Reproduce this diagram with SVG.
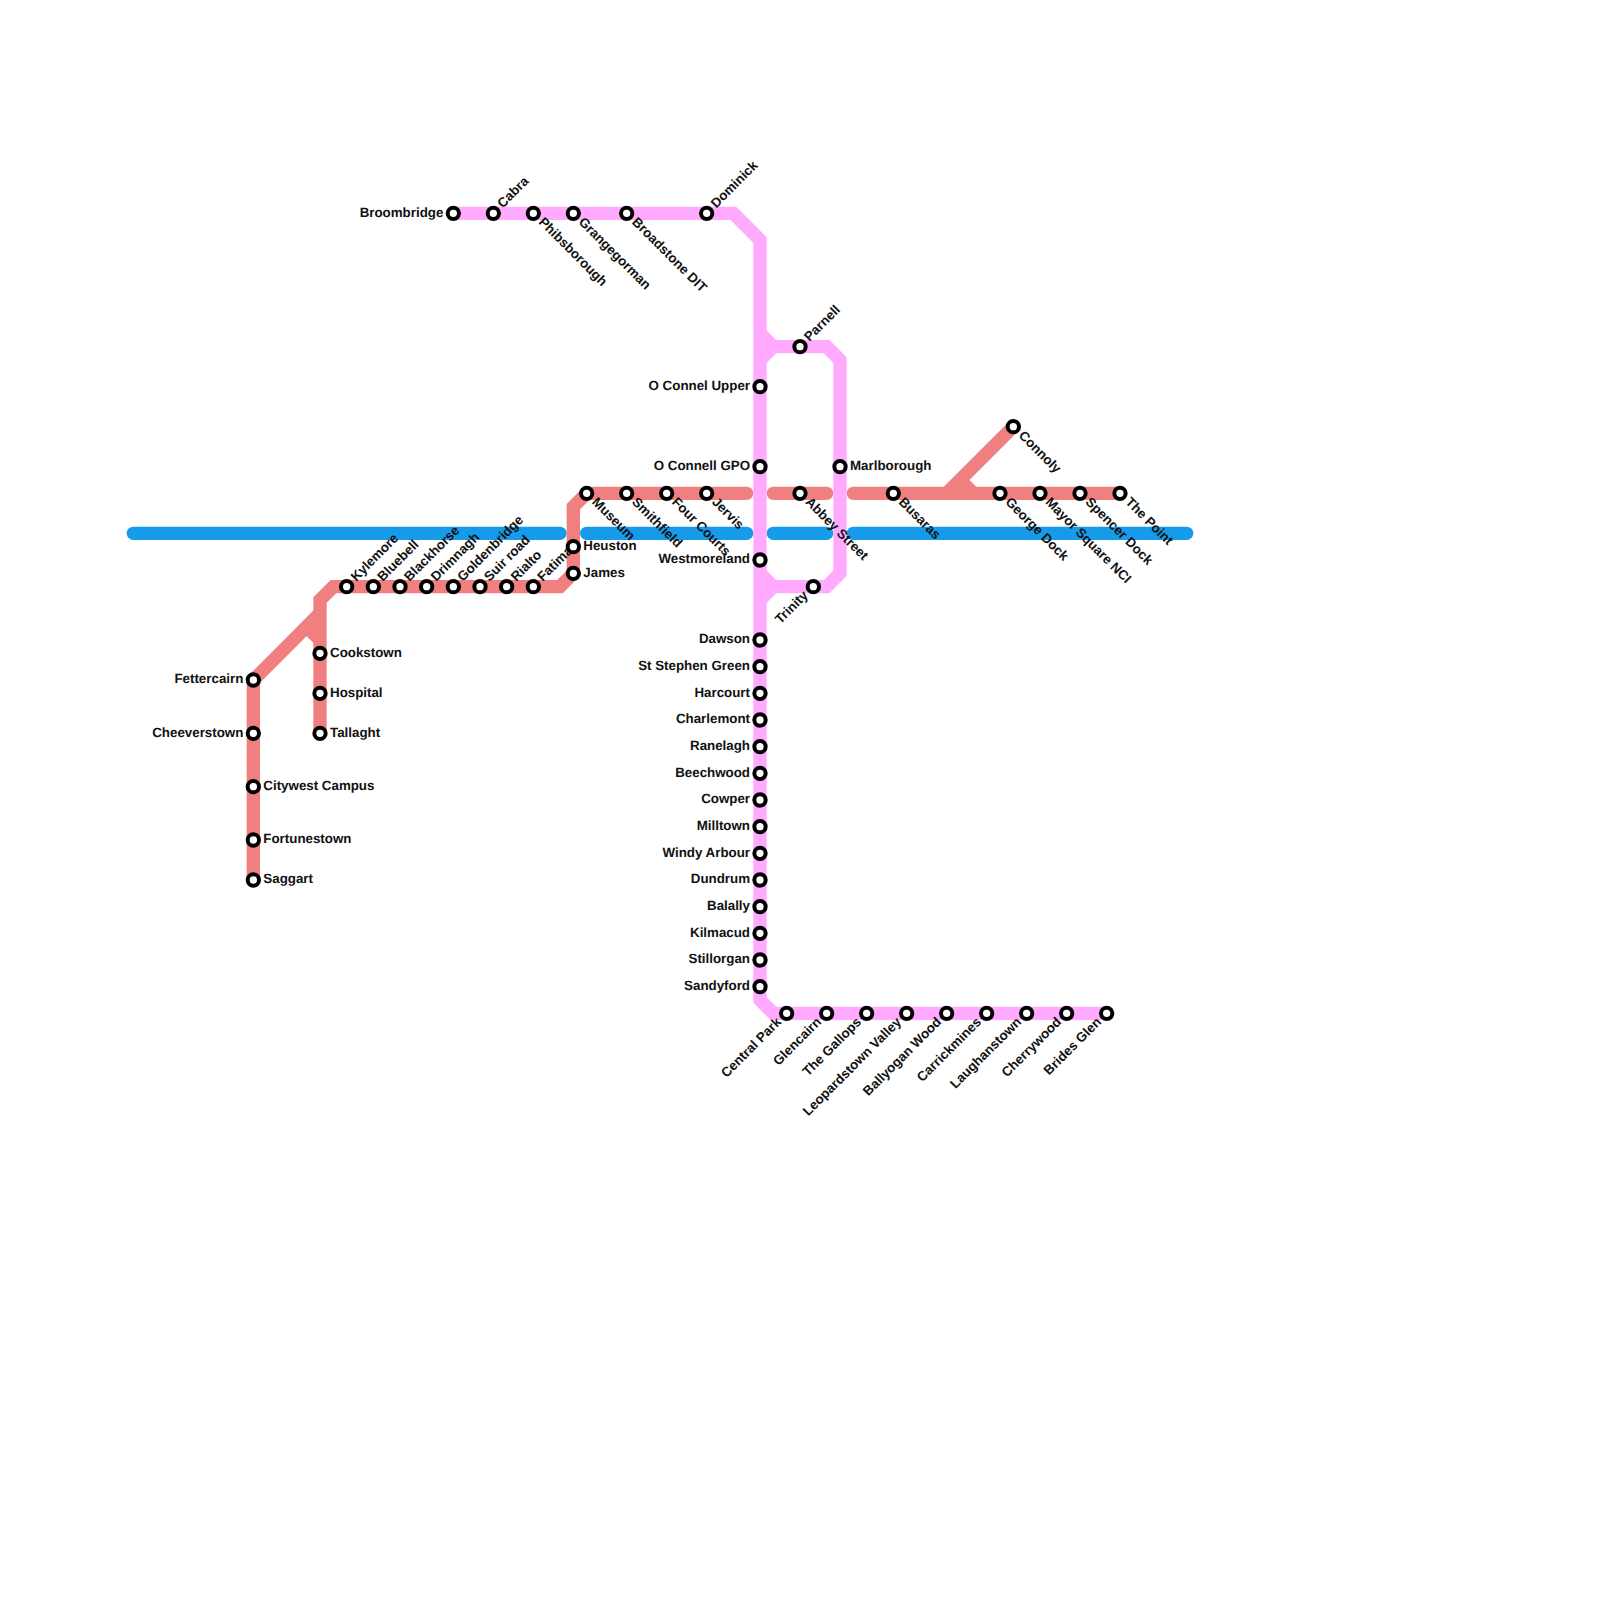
<svg xmlns="http://www.w3.org/2000/svg" width="1600" height="1600" viewBox="0 0 1600 1600">
<style>
.l{fill:none;stroke-width:13.33;stroke-linejoin:miter;stroke-linecap:butt}
.r{stroke-linecap:round}
.blue{stroke:#169beb}.red{stroke:#f08080}.pink{stroke:#ffaaff}
circle{fill:#fff;stroke:#000;stroke-width:4}
text{font-family:"Liberation Sans",Arial,sans-serif;font-size:13.33px;font-weight:bold;fill:#111;text-rendering:geometricPrecision}
.e{text-anchor:end}
</style>
<g id="connectors">
<path class="l blue r" d="M133.33 533.33H560M586.67 533.33H746.67M773.33 533.33H826.67M853.33 533.33H1186.67"/>
<path class="l red r" d="M746.67 493.33H586.67M773.33 493.33H826.67M853.33 493.33H1120"/>
<path class="l red" d="M320 733.33V600L333.33 586.67H560L573.33 573.33V506.67L586.67 493.33"/>
<path class="l red" d="M253.33 880V680L320 613.33M306.67 626.67L320 640"/>
<path class="l red" d="M1013.33 426.67L946.67 493.33M960 480L973.33 493.33"/>
<path class="l pink" d="M453.33 213.33H733.33L760 240V1000L773.33 1013.33H1106.67"/>
<path class="l pink" d="M760 333.33L773.33 346.67H826.67L840 360V573.33L826.67 586.67H773.33L760 573.33M760 360L773.33 346.67M760 600L773.33 586.67"/>
</g>
<g id="n-fettercairn" transform="translate(253.33 680)"><circle r="5.67"/><text class="e" x="-10" y="3.4">Fettercairn</text></g>
<g id="n-cheeverstown" transform="translate(253.33 733.33)"><circle r="5.67"/><text class="e" x="-10" y="3.4">Cheeverstown</text></g>
<g id="n-citywest" transform="translate(253.33 786.67)"><circle r="5.67"/><text x="10" y="3.4">Citywest Campus</text></g>
<g id="n-fortunestown" transform="translate(253.33 840)"><circle r="5.67"/><text x="10" y="3.4">Fortunestown</text></g>
<g id="n-saggart" transform="translate(253.33 880)"><circle r="5.67"/><text x="10" y="3.4">Saggart</text></g>
<g id="n-cookstown" transform="translate(320 653.33)"><circle r="5.67"/><text x="10" y="3.4">Cookstown</text></g>
<g id="n-hospital" transform="translate(320 693.33)"><circle r="5.67"/><text x="10" y="3.4">Hospital</text></g>
<g id="n-tallaght" transform="translate(320 733.33)"><circle r="5.67"/><text x="10" y="3.4">Tallaght</text></g>
<g id="n-kylemore" transform="translate(346.67 586.67)"><circle r="5.67"/><text transform="rotate(-45)" x="10" y="3.4">Kylemore</text></g>
<g id="n-bluebell" transform="translate(373.33 586.67)"><circle r="5.67"/><text transform="rotate(-45)" x="10" y="3.4">Bluebell</text></g>
<g id="n-blackhorse" transform="translate(400 586.67)"><circle r="5.67"/><text transform="rotate(-45)" x="10" y="3.4">Blackhorse</text></g>
<g id="n-drimnagh" transform="translate(426.67 586.67)"><circle r="5.67"/><text transform="rotate(-45)" x="10" y="3.4">Drimnagh</text></g>
<g id="n-goldenbridge" transform="translate(453.33 586.67)"><circle r="5.67"/><text transform="rotate(-45)" x="10" y="3.4">Goldenbridge</text></g>
<g id="n-suirroad" transform="translate(480 586.67)"><circle r="5.67"/><text transform="rotate(-45)" x="10" y="3.4">Suir road</text></g>
<g id="n-rialto" transform="translate(506.67 586.67)"><circle r="5.67"/><text transform="rotate(-45)" x="10" y="3.4">Rialto</text></g>
<g id="n-fatima" transform="translate(533.33 586.67)"><circle r="5.67"/><text transform="rotate(-45)" x="10" y="3.4">Fatima</text></g>
<g id="n-heuston" transform="translate(573.33 546.67)"><circle r="5.67"/><text x="10" y="3.4">Heuston</text></g>
<g id="n-james" transform="translate(573.33 573.33)"><circle r="5.67"/><text x="10" y="3.4">James</text></g>
<g id="n-museum" transform="translate(586.67 493.33)"><circle r="5.67"/><text transform="rotate(45)" x="10" y="3.4">Museum</text></g>
<g id="n-smithfield" transform="translate(626.67 493.33)"><circle r="5.67"/><text transform="rotate(45)" x="10" y="3.4">Smithfield</text></g>
<g id="n-fourcourts" transform="translate(666.67 493.33)"><circle r="5.67"/><text transform="rotate(45)" x="10" y="3.4">Four Courts</text></g>
<g id="n-jervis" transform="translate(706.67 493.33)"><circle r="5.67"/><text transform="rotate(45)" x="10" y="3.4">Jervis</text></g>
<g id="n-abbey" transform="translate(800 493.33)"><circle r="5.67"/><text transform="rotate(45)" x="10" y="3.4">Abbey Street</text></g>
<g id="n-busaras" transform="translate(893.33 493.33)"><circle r="5.67"/><text transform="rotate(45)" x="10" y="3.4">Busaras</text></g>
<g id="n-georgedock" transform="translate(1000 493.33)"><circle r="5.67"/><text transform="rotate(45)" x="10" y="3.4">George Dock</text></g>
<g id="n-mayor" transform="translate(1040 493.33)"><circle r="5.67"/><text transform="rotate(45)" x="10" y="3.4">Mayor Square NCI</text></g>
<g id="n-spencer" transform="translate(1080 493.33)"><circle r="5.67"/><text transform="rotate(45)" x="10" y="3.4">Spencer Dock</text></g>
<g id="n-thepoint" transform="translate(1120 493.33)"><circle r="5.67"/><text transform="rotate(45)" x="10" y="3.4">The Point</text></g>
<g id="n-connoly" transform="translate(1013.33 426.67)"><circle r="5.67"/><text transform="rotate(45)" x="10" y="3.4">Connoly</text></g>
<g id="n-broombridge" transform="translate(453.33 213.33)"><circle r="5.67"/><text class="e" x="-10" y="3.4">Broombridge</text></g>
<g id="n-cabra" transform="translate(493.33 213.33)"><circle r="5.67"/><text transform="rotate(-45)" x="10" y="3.4">Cabra</text></g>
<g id="n-phibsborough" transform="translate(533.33 213.33)"><circle r="5.67"/><text transform="rotate(45)" x="10" y="3.4">Phibsborough</text></g>
<g id="n-grangegorman" transform="translate(573.33 213.33)"><circle r="5.67"/><text transform="rotate(45)" x="10" y="3.4">Grangegorman</text></g>
<g id="n-broadstone" transform="translate(626.67 213.33)"><circle r="5.67"/><text transform="rotate(45)" x="10" y="3.4">Broadstone DIT</text></g>
<g id="n-dominick" transform="translate(706.67 213.33)"><circle r="5.67"/><text transform="rotate(-45)" x="10" y="3.4">Dominick</text></g>
<g id="n-parnell" transform="translate(800 346.67)"><circle r="5.67"/><text transform="rotate(-45)" x="10" y="3.4">Parnell</text></g>
<g id="n-marlborough" transform="translate(840 466.67)"><circle r="5.67"/><text x="10" y="3.4">Marlborough</text></g>
<g id="n-trinity" transform="translate(813.33 586.67)"><circle r="5.67"/><text class="e" transform="rotate(-45)" x="-10" y="3.4">Trinity</text></g>
<g id="n-oconnelupper" transform="translate(760 386.67)"><circle r="5.67"/><text class="e" x="-10" y="3.4">O Connel Upper</text></g>
<g id="n-oconnellgpo" transform="translate(760 466.67)"><circle r="5.67"/><text class="e" x="-10" y="3.4">O Connell GPO</text></g>
<g id="n-westmoreland" transform="translate(760 560)"><circle r="5.67"/><text class="e" x="-10" y="3.4">Westmoreland</text></g>
<g id="n-dawson" transform="translate(760 640)"><circle r="5.67"/><text class="e" x="-10" y="3.4">Dawson</text></g>
<g id="n-ststephen" transform="translate(760 666.67)"><circle r="5.67"/><text class="e" x="-10" y="3.4">St Stephen Green</text></g>
<g id="n-harcourt" transform="translate(760 693.33)"><circle r="5.67"/><text class="e" x="-10" y="3.4">Harcourt</text></g>
<g id="n-charlemont" transform="translate(760 720)"><circle r="5.67"/><text class="e" x="-10" y="3.4">Charlemont</text></g>
<g id="n-ranelagh" transform="translate(760 746.67)"><circle r="5.67"/><text class="e" x="-10" y="3.4">Ranelagh</text></g>
<g id="n-beechwood" transform="translate(760 773.33)"><circle r="5.67"/><text class="e" x="-10" y="3.4">Beechwood</text></g>
<g id="n-cowper" transform="translate(760 800)"><circle r="5.67"/><text class="e" x="-10" y="3.4">Cowper</text></g>
<g id="n-milltown" transform="translate(760 826.67)"><circle r="5.67"/><text class="e" x="-10" y="3.4">Milltown</text></g>
<g id="n-windyarbour" transform="translate(760 853.33)"><circle r="5.67"/><text class="e" x="-10" y="3.4">Windy Arbour</text></g>
<g id="n-dundrum" transform="translate(760 880)"><circle r="5.67"/><text class="e" x="-10" y="3.4">Dundrum</text></g>
<g id="n-balally" transform="translate(760 906.67)"><circle r="5.67"/><text class="e" x="-10" y="3.4">Balally</text></g>
<g id="n-kilmacud" transform="translate(760 933.33)"><circle r="5.67"/><text class="e" x="-10" y="3.4">Kilmacud</text></g>
<g id="n-stillorgan" transform="translate(760 960)"><circle r="5.67"/><text class="e" x="-10" y="3.4">Stillorgan</text></g>
<g id="n-sandyford" transform="translate(760 986.67)"><circle r="5.67"/><text class="e" x="-10" y="3.4">Sandyford</text></g>
<g id="n-centralpark" transform="translate(786.67 1013.33)"><circle r="5.67"/><text class="e" transform="rotate(-45)" x="-10" y="3.4">Central Park</text></g>
<g id="n-glencairn" transform="translate(826.67 1013.33)"><circle r="5.67"/><text class="e" transform="rotate(-45)" x="-10" y="3.4">Glencairn</text></g>
<g id="n-gallops" transform="translate(866.67 1013.33)"><circle r="5.67"/><text class="e" transform="rotate(-45)" x="-10" y="3.4">The Gallops</text></g>
<g id="n-leopardstown" transform="translate(906.67 1013.33)"><circle r="5.67"/><text class="e" transform="rotate(-45)" x="-10" y="3.4">Leopardstown Valley</text></g>
<g id="n-ballyogan" transform="translate(946.67 1013.33)"><circle r="5.67"/><text class="e" transform="rotate(-45)" x="-10" y="3.4">Ballyogan Wood</text></g>
<g id="n-carrickmines" transform="translate(986.67 1013.33)"><circle r="5.67"/><text class="e" transform="rotate(-45)" x="-10" y="3.4">Carrickmines</text></g>
<g id="n-laughanstown" transform="translate(1026.67 1013.33)"><circle r="5.67"/><text class="e" transform="rotate(-45)" x="-10" y="3.4">Laughanstown</text></g>
<g id="n-cherrywood" transform="translate(1066.67 1013.33)"><circle r="5.67"/><text class="e" transform="rotate(-45)" x="-10" y="3.4">Cherrywood</text></g>
<g id="n-bridesglen" transform="translate(1106.67 1013.33)"><circle r="5.67"/><text class="e" transform="rotate(-45)" x="-10" y="3.4">Brides Glen</text></g>
</svg>
